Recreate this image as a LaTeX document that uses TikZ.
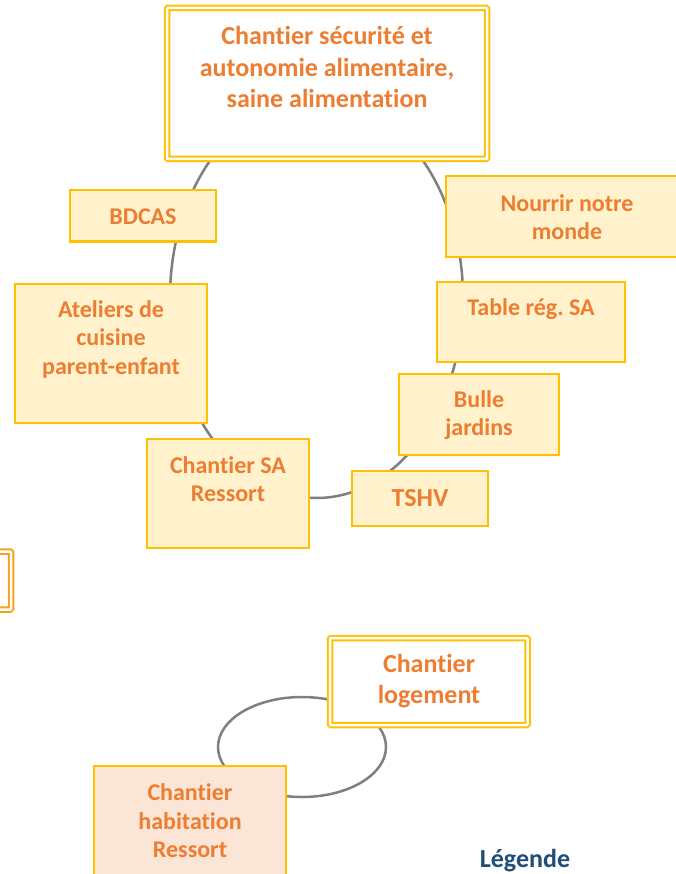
\documentclass[tikz,border=0pt]{standalone}
\usepackage{fontspec}
\setmainfont[Ligatures=NoCommon]{Carlito}
\frenchspacing
\usetikzlibrary{shapes.geometric}
\definecolor{boxgold}{HTML}{FFC000}
\definecolor{boxfill}{HTML}{FFF2CC}
\definecolor{txtorange}{HTML}{ED7D31}
\definecolor{peachfill}{HTML}{FBE5D6}
\definecolor{linegray}{HTML}{7F7F7F}
\definecolor{legblue}{HTML}{1F4E79}
\definecolor{edgeorange}{HTML}{F5A21D}
\tikzset{
  cyc/.style={ellipse, draw=linegray, line width=2.5pt, inner sep=0pt},
  sbox/.style={draw=boxgold, fill=boxfill, line width=2.5pt, inner sep=0pt},
  dbox/.style={draw=boxgold, fill=white, line width=2pt, double=white, double distance=2.5pt, inner sep=0pt, rounded corners=1pt},
  txt/.style={text=txtorange, font=\bfseries\fontsize{24}{28.5}\selectfont, align=center, inner sep=0pt},
  bigtxt/.style={text=txtorange, font=\bfseries\fontsize{26}{31.5}\selectfont, align=center, inner sep=0pt},
}
\begin{document}
\begin{tikzpicture}[x=1pt,y=-1pt]
\useasboundingbox (0,0) rectangle (675,874);
% cycles
\node[cyc, minimum width=293pt, minimum height=400pt] (cycA) at (316.5,298) {};
\node[cyc, minimum width=168pt, minimum height=100pt] (cycB) at (302,747) {};
% top box
\node[dbox, minimum width=320pt, minimum height=151pt] (top) at (327,83.5) {};
\node[bigtxt] (topT) at (327,67) {Chantier sécurité et\\autonomie alimentaire,\\saine alimentation};
% left partial box
\node[dbox, draw=edgeorange, minimum width=102pt, minimum height=58pt] (edge) at (-40,580.5) {};
% single boxes
\node[sbox, minimum width=146pt, minimum height=51.5pt] (bdcas) at (143,216) {};
\node[txt] (bdcasT) at (143,216.5) {BDCAS};
\node[sbox, minimum width=192pt, minimum height=139pt] (atel) at (111,353.5) {};
\node[txt] (atelT) at (111,339) {Ateliers de\\cuisine\\parent-enfant};
\node[sbox, minimum width=162pt, minimum height=109pt] (csa) at (228,493.5) {};
\node[txt] (csaT) at (228,479) {Chantier SA\\Ressort};
\node[sbox, minimum width=136pt, minimum height=55pt] (tshv) at (420,498.5) {};
\node[bigtxt] (tshvT) at (420,498) {TSHV};
\node[sbox, minimum width=160pt, minimum height=81pt] (bulle) at (479,414.5) {};
\node[txt] (bulleT) at (479,415) {Bulle\\jardins};
\node[sbox, minimum width=188pt, minimum height=80pt] (table) at (531,322) {};
\node[txt] (tableT) at (531,309) {Table rég. SA};
\node[sbox, minimum width=242pt, minimum height=81pt] (nourrir) at (567,216.5) {};
\node[txt] (nourrirT) at (567,217) {Nourrir notre\\monde};
% lower group
\node[dbox, minimum width=197.5pt, minimum height=87pt] (loge) at (428.75,681.5) {};
\node[bigtxt] (logeT) at (429,681) {Chantier\\logement};
\node[sbox, fill=peachfill, minimum width=192pt, minimum height=134pt] (habit) at (190,833) {};
\node[txt] (habitT) at (190,821) {Chantier\\habitation\\Ressort};
% legend title
\node[text=legblue, font=\bfseries\fontsize{26}{31}\selectfont, anchor=base, inner sep=0pt] (leg) at (525,867) {Légende};
\end{tikzpicture}
\end{document}
